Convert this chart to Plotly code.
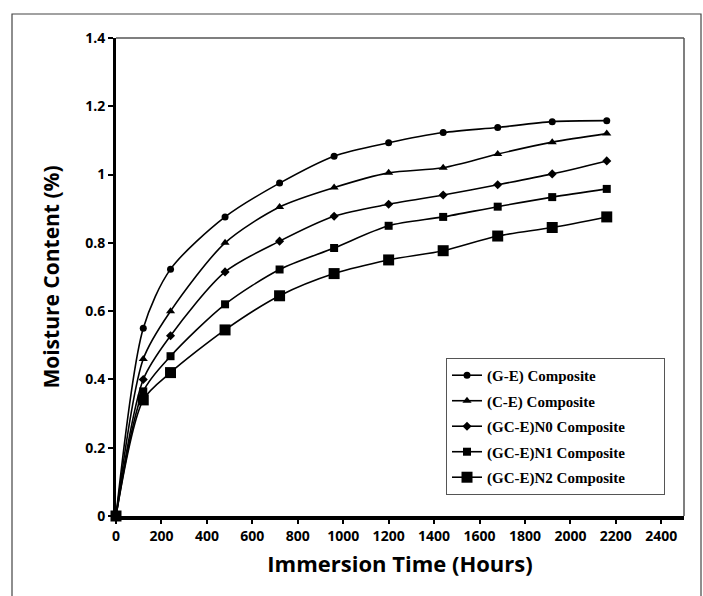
import plotly.graph_objects as go

# Immersion time (hours) and moisture content (%) for each composite
hours = [0, 120, 240, 480, 720, 960, 1200, 1440, 1680, 1920, 2160]
ge = [0, 0.55, 0.723, 0.876, 0.975, 1.054, 1.093, 1.123, 1.138, 1.155, 1.158]
ce = [0, 0.46, 0.60, 0.80, 0.905, 0.962, 1.005, 1.02, 1.06, 1.095, 1.12]
gc_n0 = [0, 0.40, 0.528, 0.715, 0.805, 0.878, 0.913, 0.94, 0.97, 1.002, 1.04]
gc_n1 = [0, 0.365, 0.468, 0.62, 0.722, 0.785, 0.85, 0.876, 0.906, 0.934, 0.958]
gc_n2 = [0, 0.34, 0.42, 0.545, 0.645, 0.71, 0.75, 0.777, 0.82, 0.845, 0.876]

names = ["(G-E) Composite", "(C-E) Composite", "(GC-E)N0 Composite",
         "(GC-E)N1 Composite", "(GC-E)N2 Composite"]
series = [ge, ce, gc_n0, gc_n1, gc_n2]
symbols = ["circle", "triangle-up", "diamond", "square", "square"]
sizes = [7, 8, 7, 8, 11]

x_ticks = list(range(0, 2401, 200))
y_ticks = [0, 0.2, 0.4, 0.6, 0.8, 1.0, 1.2, 1.4]
y_tick_text = ["0", "0.2", "0.4", "0.6", "0.8", "1", "1.2", "1.4"]

W, H = 703, 596
L, R, T, B = 116, 19, 38, 80
pw, ph = W - L - R, H - T - B

pad = "\u00a0" * 9  # extra room on the right of the legend labels

fig = go.Figure()
for i, (name, ys, sym, sz) in enumerate(zip(names, series, symbols, sizes)):
    fig.add_trace(go.Scatter(
        x=hours, y=ys, name=name + pad, mode="lines+markers",
        legendgroup=f"g{i}",
        line=dict(color="black", width=1.6, shape="spline", smoothing=0.8),
        marker=dict(symbol=sym, size=sz, color="black"),
        cliponaxis=False,
    ))

tick_font = dict(family="Open Sans", size=14, color="black", weight="bold")

fig.update_layout(
    width=W, height=H,
    margin=dict(l=L, r=R, t=T, b=B),
    paper_bgcolor="white", plot_bgcolor="white",
    showlegend=True,
    legend=dict(
        x=0.581, y=0.044, xanchor="left", yanchor="bottom",
        bgcolor="white", bordercolor="#555555", borderwidth=1,
        font=dict(family="Liberation Serif", size=15, color="black",
                  weight="bold"),
        tracegroupgap=3, itemwidth=30,
    ),
    xaxis=dict(
        range=[0, 2500], tickvals=x_ticks, ticks="outside", ticklen=4,
        tickwidth=2, tickcolor="black", showline=True, linecolor="black",
        linewidth=4, showgrid=False, zeroline=False,
        tickfont=tick_font,
        title=dict(text="Immersion Time (Hours)",
                   font=dict(family="Open Sans", size=22, color="black",
                             weight="bold"),
                   standoff=14),
    ),
    yaxis=dict(
        range=[0, 1.4], tickvals=y_ticks, ticktext=y_tick_text,
        ticks="outside", ticklen=5, tickwidth=2, tickcolor="black",
        showline=True, linecolor="black", linewidth=3,
        showgrid=False, zeroline=False, tickfont=tick_font,
        title=dict(text="Moisture Content (%)",
                   font=dict(family="Open Sans", size=21, color="black",
                             weight="bold"),
                   standoff=20),
    ),
    shapes=[
        # thin top and right plot borders
        dict(type="line", xref="paper", yref="paper", x0=0, x1=1, y0=1, y1=1,
             line=dict(color="#555555", width=1.5)),
        dict(type="line", xref="paper", yref="paper", x0=1, x1=1, y0=0, y1=1,
             line=dict(color="#555555", width=1.5)),
        # outer frame around the figure
        dict(type="rect", xref="paper", yref="paper",
             x0=(12 - L) / pw, x1=(701 - L) / pw,
             y0=-(B + 10) / ph, y1=1 + (T - 14) / ph,
             line=dict(color="#444444", width=1.2),
             fillcolor="rgba(0,0,0,0)"),
    ],
)

fig.write_html("out.html")
